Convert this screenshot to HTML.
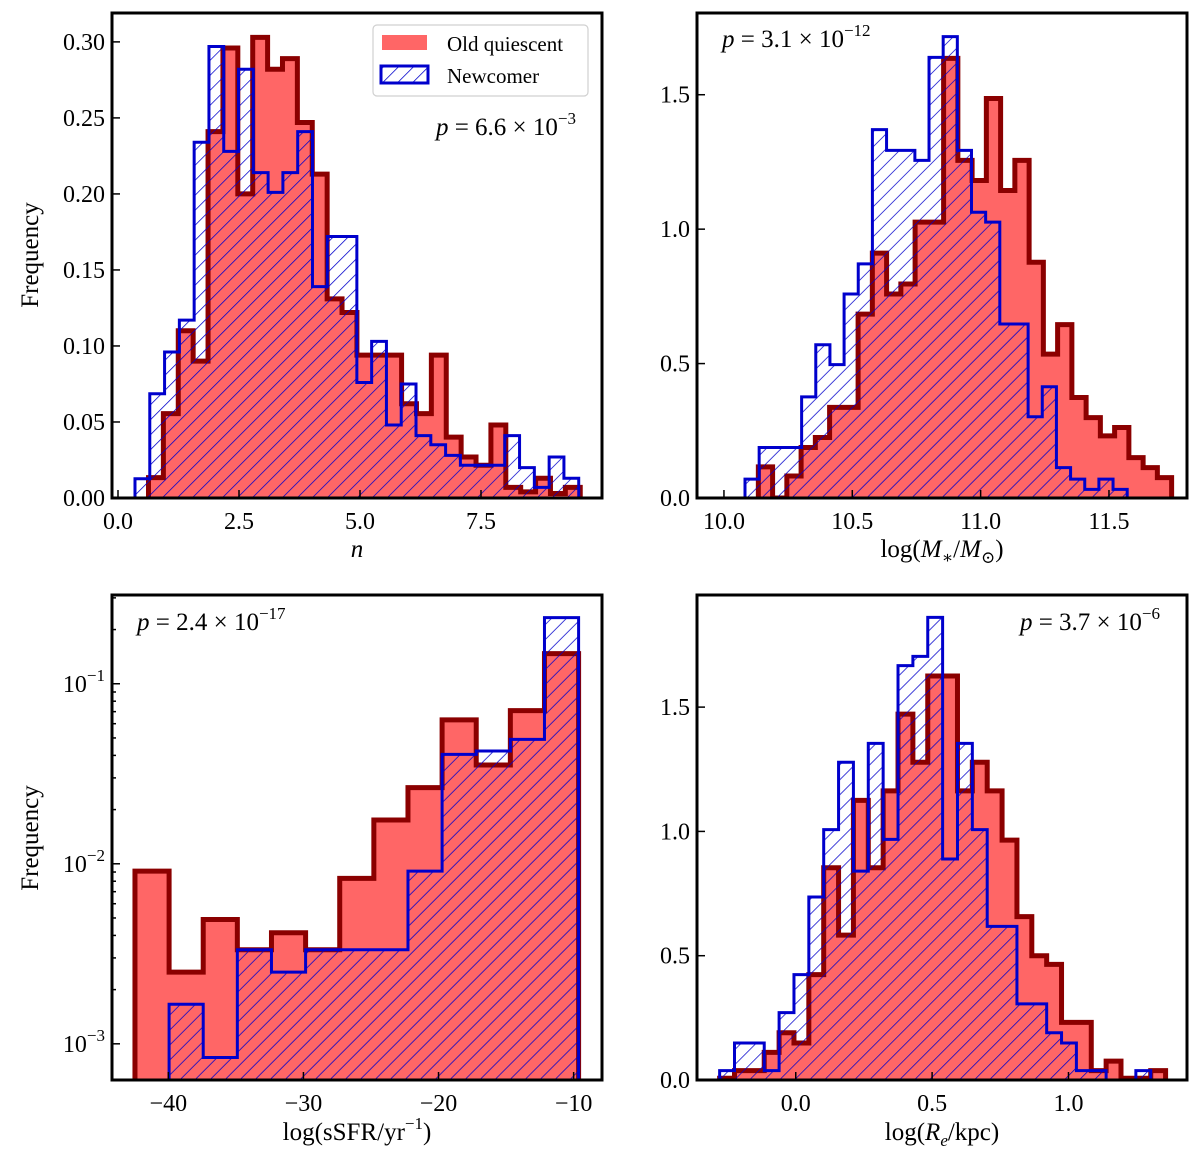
<!DOCTYPE html>
<html><head><meta charset="utf-8"><style>
body{margin:0;background:#fff}
svg{display:block}
text{font-family:"Liberation Serif","DejaVu Serif",serif;fill:#000}
</style></head><body>
<svg id="fig" width="1200" height="1168" viewBox="0 0 1200 1168" xmlns="http://www.w3.org/2000/svg">
<defs>
<pattern id="hatch" width="10.6" height="20" patternUnits="userSpaceOnUse" patternTransform="rotate(45)">
<line x1="0" y1="-2" x2="0" y2="22" stroke="#0000cc" stroke-width="1.5"/>
</pattern>
</defs>
</svg>
<script>
// ---- Panel 1: Sersic index n ----
const p1OldStart = 0.63, p1OldWidth = 0.3076;
const p1OldVals = [0.0134,0.0555,0.110,0.090,0.241,0.296,0.200,0.303,0.282,0.289,0.247,0.213,0.131,0.122,0.094,0.094,0.094,0.062,0.0555,0.094,0.040,0.027,0.0215,0.048,0.007,0.004,0.013,0.003,0.007];
const p1NewStart = 0.351, p1NewWidth = 0.3056;
const p1NewVals = [0.0127,0.0686,0.096,0.117,0.234,0.297,0.228,0.282,0.214,0.201,0.214,0.241,0.139,0.172,0.172,0.076,0.103,0.048,0.075,0.041,0.035,0.028,0.0215,0.0215,0.0215,0.041,0.020,0.007,0.027,0.013];
const p1XTicks = [0.0,2.5,5.0,7.5];
const p1XTickLabels = ["0.0","2.5","5.0","7.5"];
const p1YTicks = [0,0.05,0.10,0.15,0.20,0.25,0.30];
const p1YTickLabels = ["0.00","0.05","0.10","0.15","0.20","0.25","0.30"];
// ---- Panel 2: stellar mass ----
const p2OldStart = 10.134, p2OldWidth = 0.05552;
const p2OldVals = [0.116,0,0.082,0.188,0.225,0.337,0.337,0.684,0.911,0.759,0.796,1.026,1.026,1.635,1.256,1.181,1.486,1.144,1.256,0.877,0.535,0.645,0.374,0.299,0.231,0.262,0.150,0.113,0.076];
const p2NewStart = 10.082, p2NewWidth = 0.05515;
const p2NewVals = [0.070,0.188,0.188,0.188,0.376,0.570,0.496,0.759,0.871,1.370,1.293,1.293,1.256,1.639,1.716,1.293,1.063,1.026,0.647,0.647,0.302,0.414,0.113,0.070,0.032,0.070,0.032];
const p2XTicks = [10.0,10.5,11.0,11.5];
const p2XTickLabels = ["10.0","10.5","11.0","11.5"];
const p2YTicks = [0,0.5,1.0,1.5];
const p2YTickLabels = ["0.0","0.5","1.0","1.5"];
// ---- Panel 3: sSFR (log y) ----
const p3OldStart = -42.47, p3OldWidth = 2.526;
const p3OldVals = [0.0091,0.0025,0.0049,0.00333,0.00414,0.00333,0.0083,0.0175,0.0265,0.063,0.0354,0.0709,0.147];
const p3NewStart = -39.944, p3NewWidth = 2.526;
const p3NewVals = [0.00166,0.00084,0.00333,0.0025,0.00333,0.00333,0.00333,0.0091,0.0405,0.0423,0.0491,0.233];
const p3XTicks = [-40,-30,-20,-10];
const p3XTickLabels = ["−40","−30","−20","−10"];
const p3YDecades = [-3,-2,-1];
// ---- Panel 4: effective radius ----
const p4OldStart = -0.279, p4OldWidth = 0.0545;
const p4OldVals = [0.007,0.0375,0.0375,0.111,0.190,0.149,0.424,0.854,0.583,1.125,0.854,1.163,1.472,1.278,1.625,1.625,1.163,1.278,1.163,0.965,0.657,0.5,0.465,0.232,0.232,0.0375,0.076,0.007,0.007,0.0375];
const p4NewStart = -0.279, p4NewWidth = 0.0545;
const p4NewVals = [0.0375,0.149,0.149,0.0375,0.271,0.424,0.736,1.007,1.278,0.84,1.354,0.968,1.667,1.704,1.861,0.889,1.354,1.007,0.618,0.618,0.306,0.306,0.190,0.149,0.0375,0.0375,0,0,0.0375];
const p4XTicks = [0.0,0.5,1.0];
const p4XTickLabels = ["0.0","0.5","1.0"];
const p4YTicks = [0,0.5,1.0,1.5];
const p4YTickLabels = ["0.0","0.5","1.0","1.5"];

const NS = "http://www.w3.org/2000/svg";
const svg = document.getElementById('fig');
function mk(tag, attrs, parent){ const e=document.createElementNS(NS,tag); for(const k in attrs) e.setAttribute(k,attrs[k]); (parent||svg).appendChild(e); return e; }

let clipN = 0;
function panel(box, xd, yd, logY, name){
  const [L,T,R,B] = box;
  const x = v => L + (v - xd[0])/(xd[1]-xd[0])*(R-L);
  const y = logY
    ? v => (v<=0 ? B+20 : B - (Math.log10(v)-yd[0])/(yd[1]-yd[0])*(B-T))
    : v => B - (v - yd[0])/(yd[1]-yd[0])*(B-T);
  const g = mk('g',{});
  
  
  const id = 'clip'+(clipN++);
  const cp = mk('clipPath',{id:id},svg.querySelector('defs'));
  mk('rect',{x:L,y:T,width:R-L,height:B-T},cp);
  const plot = mk('g',{'clip-path':'url(#'+id+')'},g);
  return {L,T,R,B,x,y,g,plot};
}
function histPath(P, start, width, vals){
  const base = P.B + 20;
  let d = 'M'+P.x(start)+','+base;
  vals.forEach((v,i)=>{ const yy=P.y(v); d += ' L'+P.x(start+i*width)+','+yy+' L'+P.x(start+(i+1)*width)+','+yy; });
  d += ' L'+P.x(start+vals.length*width)+','+base+' Z';
  return d;
}
function drawHists(P, os, ow, ov, ns, nw, nv){
  const d1 = histPath(P, os, ow, ov);
  const f = mk('path',{d:d1,fill:'#ff6666',stroke:'#8b0000','stroke-width':5,'stroke-linejoin':'miter'},P.plot);
  
  
  const d2 = histPath(P, ns, nw, nv);
  const h = mk('path',{d:d2,fill:'url(#hatch)',stroke:'#0000cc','stroke-width':3},P.plot);
  
  
}
function frame(P){
  const r = mk('rect',{x:P.L,y:P.T,width:P.R-P.L,height:P.B-P.T,fill:'none',stroke:'#000','stroke-width':3},P.g);
  
  
}
function xTicks(P, ticks, labels){
  ticks.forEach((v,i)=>{
    const xx=P.x(v);
    mk('line',{x1:xx,x2:xx,y1:P.B,y2:P.B-8,stroke:'#000','stroke-width':1.5},P.g);
    const t = mk('text',{x:xx,y:P.B+31,'font-size':24,'text-anchor':'middle'},P.g);
    t.textContent = labels[i];
    
    
  });
}
function yTicks(P, ticks, labels){
  ticks.forEach((v,i)=>{
    const yy=P.y(v);
    mk('line',{x1:P.L,x2:P.L+8,y1:yy,y2:yy,stroke:'#000','stroke-width':1.5},P.g);
    const t = mk('text',{x:P.L-7,y:yy+8,'font-size':24,'text-anchor':'end'},P.g);
    t.textContent = labels[i];
    
    
  });
}
function label(txt, xx, yy, name, rot, parts){
  const t = mk('text',{x:xx,y:yy,'font-size':25,'text-anchor':'middle'});
  if(rot) t.setAttribute('transform','rotate(-90 '+xx+' '+yy+')');
  if(parts){ t.innerHTML = parts; } else t.textContent = txt;
  
  
  return t;
}
function pText(xx, yy, mant, exp, anchor){
  const t = mk('text',{x:xx,y:yy,'font-size':25,'text-anchor':anchor||'start'});
  t.innerHTML = '<tspan font-style="italic">p</tspan> = '+mant+' × 10<tspan font-size="17" dy="-11">'+exp+'</tspan>';
  
  
}

// Panel 1
const P1 = panel([112,13,602,498],[-0.124,10.0],[0,0.319],false,'panel-sersic-index');
drawHists(P1,p1OldStart,p1OldWidth,p1OldVals,p1NewStart,p1NewWidth,p1NewVals);
frame(P1); xTicks(P1,p1XTicks,p1XTickLabels); yTicks(P1,p1YTicks,p1YTickLabels);
// Panel 2
const P2 = panel([697,13,1187,498],[9.895,11.804],[0,1.804],false,'panel-stellar-mass');
drawHists(P2,p2OldStart,p2OldWidth,p2OldVals,p2NewStart,p2NewWidth,p2NewVals);
frame(P2); xTicks(P2,p2XTicks,p2XTickLabels); yTicks(P2,p2YTicks,p2YTickLabels);
// Panel 3
const P3 = panel([112,595,602,1080],[-44.17,-7.9],[-3.201,-0.507],true,'panel-ssfr');
drawHists(P3,p3OldStart,p3OldWidth,p3OldVals,p3NewStart,p3NewWidth,p3NewVals);
frame(P3); xTicks(P3,p3XTicks,p3XTickLabels);
p3YDecades.forEach(dd=>{
  for(let m=1;m<10;m++){
    const v=m*Math.pow(10,dd); const lv=Math.log10(v);
    if(lv<-3.201||lv>-0.507) continue;
    const yy=P3.y(v);
    mk('line',{x1:P3.L,x2:P3.L+(m==1?8:4),y1:yy,y2:yy,stroke:'#000','stroke-width':1.5},P3.g);
  }
  const yy=P3.y(Math.pow(10,dd));
  const t = mk('text',{x:P3.L-7,y:yy+8,'font-size':24,'text-anchor':'end'},P3.g);
  t.innerHTML = '10<tspan font-size="17" dy="-11">−'+(-dd)+'</tspan>';
  
  
});
for(let m=2;m<10;m++){ const v=m*1e-1; if(Math.log10(v)>-0.507) continue; }
// Panel 4
const P4 = panel([697,595,1187,1080],[-0.362,1.4345],[0,1.951],false,'panel-effective-radius');
drawHists(P4,p4OldStart,p4OldWidth,p4OldVals,p4NewStart,p4NewWidth,p4NewVals);
frame(P4); xTicks(P4,p4XTicks,p4XTickLabels); yTicks(P4,p4YTicks,p4YTickLabels);

// Axis labels
label('n',357,557,'x-axis-title-n',false,'<tspan font-style="italic">n</tspan>');
label('',942,557,'x-axis-title-mass',false,'log(<tspan font-style="italic">M</tspan><tspan font-size="17" dy="6">∗</tspan><tspan dy="-6">/</tspan><tspan font-style="italic">M</tspan><tspan font-size="17" dy="6">⊙</tspan><tspan dy="-6">)</tspan>');
label('',357,1140,'x-axis-title-ssfr',false,'log(sSFR/yr<tspan font-size="17" dy="-11">−1</tspan><tspan dy="11">)</tspan>');
label('',942,1140,'x-axis-title-re',false,'log(<tspan font-style="italic">R</tspan><tspan font-size="17" dy="6" font-style="italic">e</tspan><tspan dy="-6">/kpc)</tspan>');
label('Frequency',38,255,'y-axis-title-top',true);
label('Frequency',38,838,'y-axis-title-bottom',true);

// p values
pText(576,135,'6.6','−3','end');
pText(722,47,'3.1','−12','start');
pText(137,630,'2.4','−17','start');
pText(1160,630,'3.7','−6','end');

// Legend
const lg = mk('g',{});


mk('rect',{x:373,y:25,width:215,height:71,rx:4,fill:'#fff',stroke:'#d0d0d0','stroke-width':1.2},lg);
const e1 = mk('rect',{x:382,y:35,width:45,height:15,fill:'#ff6666'},lg);


const e2 = mk('rect',{x:381,y:66,width:47,height:17,fill:'url(#hatch)',stroke:'#0000cc','stroke-width':3},lg);


const t1 = mk('text',{x:447,y:51,'font-size':21},lg); t1.textContent='Old quiescent';


const t2 = mk('text',{x:447,y:83,'font-size':21},lg); t2.textContent='Newcomer';


</script>
</body></html>
